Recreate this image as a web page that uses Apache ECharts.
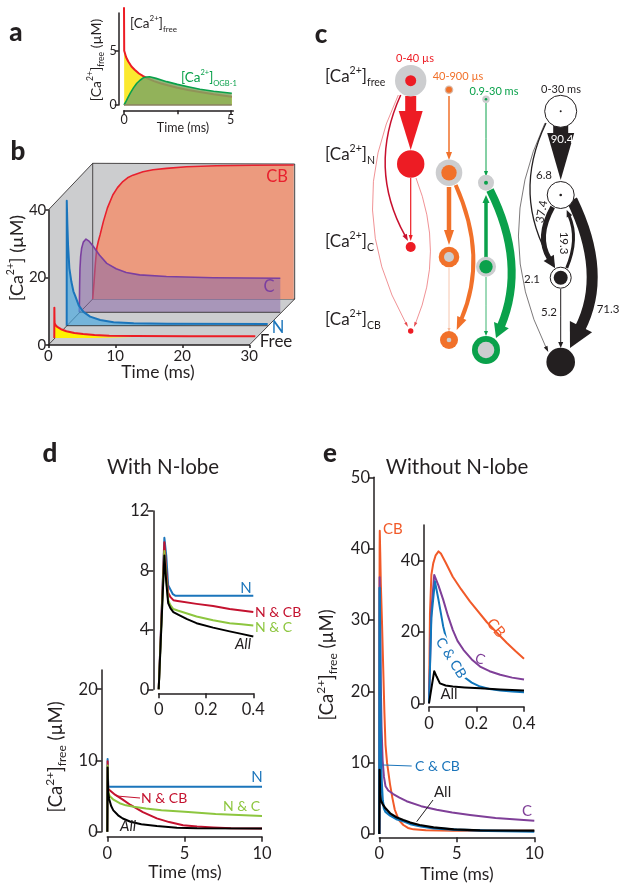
<!DOCTYPE html>
<html><head><meta charset="utf-8">
<style>html,body{margin:0;padding:0;background:#fff}#c{width:627px;height:890px}</style>
<script src="https://cdn.jsdelivr.net/npm/echarts@6/dist/echarts.min.js"></script>
</head><body><div id="c"></div>
<script>
// ---------- Data ----------
// Panel a: t (ms), concentration (uM)
const aFree = [[0,9],[0.01,5.0],[0.1,4.4],[0.2,4.0],[0.35,3.55],[0.5,3.25],[0.7,2.9],[0.9,2.65],[1.1,2.45],[1.4,2.2],[1.7,2.0],[2,1.84],[2.5,1.58],[3,1.38],[3.56,1.2],[4.2,0.98],[5.05,0.77]];
const aOGB  = [[0,0],[0.1,0.35],[0.2,0.75],[0.3,1.12],[0.45,1.6],[0.6,2],[0.75,2.28],[0.9,2.5],[1.05,2.58],[1.2,2.6],[1.5,2.45],[2,2.15],[2.5,1.9],[3,1.68],[3.56,1.45],[4.2,1.27],[5.05,1.08]];
// Panel b: t (ms), concentration (uM)
const bFree = [[0,0],[0.01,9],[0.03,5.5],[0.05,4.4],[0.2,3.8],[0.5,3.2],[1,2.6],[1.8,2],[3,1.5],[4.3,1.2],[6,0.9],[8.2,0.7],[12,0.58],[20,0.5],[30,0.5]];
const bN    = [[0,0],[0.01,37],[0.1,30],[0.2,24],[0.4,17],[0.7,13],[1,10.2],[1.24,9],[1.8,6],[2.5,4.1],[3.5,2.7],[5,1.7],[7,1.05],[10,0.7],[15,0.55],[30,0.5]];
const bC    = [[0,0],[0.05,8],[0.1,13],[0.2,16.5],[0.35,19],[0.6,20.8],[1,21.7],[1.5,21],[2.1,19.5],[3,17],[4.1,14.5],[5.5,12.9],[7,11.8],[9,11.1],[13,10.6],[20,10.25],[30,10.1]];
const bCB   = [[0,0],[0.2,5],[0.4,10.5],[0.6,15],[0.85,17.2],[1.1,19],[1.6,23],[2.2,27],[3,30.8],[3.7,33],[4.5,34.8],[5.2,35.9],[6,36.7],[7.5,37.7],[9,38.3],[11,38.7],[14,39.2],[18.4,39.5],[24,39.65],[30,39.7]];
// Panel d inset
const dInN   = [[0,0],[0.012,5],[0.024,10.2],[0.032,9],[0.04,7],[0.05,6.7],[0.06,6.4],[0.07,6.3],[0.2,6.3],[0.4,6.3]];
const dInNCB = [[0,0],[0.012,5],[0.024,9.9],[0.032,8],[0.04,6.5],[0.05,6.2],[0.062,6],[0.08,5.95],[0.16,5.75],[0.23,5.6],[0.3,5.4],[0.35,5.3],[0.4,5.2]];
const dInNC  = [[0,0],[0.012,4.6],[0.024,9.3],[0.032,7.5],[0.04,6],[0.05,5.65],[0.062,5.4],[0.08,5.3],[0.12,5.1],[0.16,4.9],[0.23,4.65],[0.3,4.45],[0.35,4.37],[0.4,4.3]];
const dInAll = [[0,0],[0.012,4.5],[0.024,9],[0.032,7.2],[0.04,5.8],[0.05,5.45],[0.062,5.2],[0.08,5.05],[0.12,4.72],[0.16,4.45],[0.23,4.15],[0.3,3.9],[0.35,3.73],[0.4,3.55]];
// Panel d main
const dN   = [[0,0],[0.02,10.2],[0.06,6.3],[5,6.3],[10,6.3]];
const dNCB = [[0,0],[0.02,9.9],[0.06,6],[0.17,5.85],[0.5,5.2],[1,4.5],[1.5,3.75],[2.3,2.75],[3.2,1.87],[4,1.35],[4.9,0.9],[5.8,0.72],[6.85,0.6],[8,0.5],[10,0.45]];
const dNC  = [[0,0],[0.02,9.3],[0.06,5.6],[0.15,5.0],[0.4,4.5],[0.8,4],[1.2,3.7],[1.7,3.5],[2.5,3.25],[3.5,3.02],[5,2.8],[7,2.5],[10,2.2]];
const dAll = [[0,0],[0.02,9],[0.06,5.5],[0.12,4.6],[0.25,3.6],[0.39,3],[0.7,2.3],[1,1.85],[1.5,1.4],[2.2,1.05],[3.2,0.8],[4.5,0.55],[5.8,0.47],[10,0.45]];
// Panel e main
const eCB  = [[0,0],[0.01,30],[0.02,40],[0.03,42.5],[0.06,39.5],[0.1,35],[0.17,30],[0.25,23.5],[0.33,17],[0.4,12.5],[0.5,10],[0.69,7],[0.85,5],[1,3.4],[1.25,2],[1.55,1.26],[1.85,0.85],[2.2,0.65],[3,0.52],[4.8,0.47],[10,0.47]];
const eC   = [[0,0],[0.02,36],[0.06,29],[0.1,20.6],[0.145,15],[0.215,10.3],[0.3,8],[0.4,6.7],[0.58,6.1],[0.9,5.6],[1.3,5.1],[1.76,4.6],[2.7,3.9],[3.7,3.4],[4.7,3],[5.85,2.66],[7.5,2.25],[10,1.87]];
const eCCB = [[0,0],[0.02,34.5],[0.06,21.5],[0.1,11.5],[0.145,7.5],[0.215,4.7],[0.3,3.6],[0.4,3.1],[0.7,2.6],[1.1,2.1],[1.55,1.8],[2,1.4],[2.6,1.1],[3.5,0.8],[5,0.6],[7,0.45],[10,0.35]];
const eAll = [[0,0],[0.02,9],[0.05,5.6],[0.1,4.7],[0.215,4.2],[0.4,3.6],[0.7,2.9],[1.1,2.35],[1.55,1.96],[2,1.6],[2.6,1.26],[3.5,0.92],[4.8,0.65],[6.5,0.52],[10,0.47]];
// Panel e inset
const eInCB  = [[0,0],[0.004,25],[0.01,36],[0.018,39.3],[0.028,41.5],[0.04,42.6],[0.05,42],[0.07,39.5],[0.1,35.5],[0.135,32],[0.173,28.5],[0.243,22.8],[0.29,19.5],[0.327,17],[0.365,14.6],[0.4,12.5]];
const eInC   = [[0,0],[0.01,26],[0.022,36],[0.04,33],[0.06,29],[0.08,24.5],[0.1,20.6],[0.12,17.5],[0.145,15],[0.18,12.3],[0.215,10.3],[0.255,9],[0.3,8],[0.35,7.2],[0.4,6.7]];
const eInCCB = [[0,0],[0.01,24],[0.025,34.2],[0.04,29],[0.06,21.5],[0.08,16],[0.1,11.5],[0.12,9.2],[0.145,7.5],[0.18,5.8],[0.215,4.7],[0.255,4],[0.3,3.6],[0.35,3.3],[0.4,3.1]];
const eInAll = [[0,0],[0.012,5],[0.022,9],[0.032,7.5],[0.046,5.6],[0.07,5],[0.1,4.7],[0.15,4.45],[0.215,4.2],[0.3,3.9],[0.4,3.6]];
// Panel c flux percentages and labels
const fluxLabels = ['90.4','6.8','37.4','19.3','2.1','5.2','71.3'];
const rowLabels = ['free','N','C','CB'];
const colLabels = ['0-40 µs','40-900 µs','0.9-30 ms','0-30 ms'];

// ---------- Layout ----------
const FONT = 'Lato';
const INK = '#231f20';
const RED='#ed1c24', ORG='#f1712a', GRN='#0aa14b', BLK='#231f20', GREY='#cccdcf';
const grids = [
 {left:0,top:0,width:627,height:890},
 {left:124,top:13,width:109.3,height:92},          // a
 {left:48.3,top:210,width:201,height:135},         // b front axes
 {left:54.3,top:203,width:201,height:135},         // b free
 {left:66.7,top:190.7,width:201,height:135},       // b N
 {left:79.3,top:177.3,width:201,height:135},       // b C
 {left:92.7,top:164,width:201,height:135},         // b CB
 {left:158.7,top:511,width:94.6,height:178.3},     // d inset
 {left:107.3,top:670,width:154.7,height:161.7},    // d main
 {left:379.3,top:477.3,width:155,height:356.7},    // e main
 {left:429,top:525,width:95,height:178.3}          // e inset
];
const line = {color:INK,width:1.5};
function ax(gridIndex,max,o,defMargin){
  const on=o.show!==false;
  return {type:'value',gridIndex,min:0,max,splitLine:{show:false},
    axisLine:{show:on,lineStyle:line,onZero:false},
    axisTick:{show:on,length:o.tick||5,lineStyle:line,customValues:o.ticks},
    axisLabel:{show:on,color:INK,fontSize:o.fs||16.5,fontFamily:FONT,margin:o.margin||defMargin,
      customValues:o.labels,hideOverlap:false,showMinLabel:true,showMaxLabel:true,formatter:v=>String(v)},
    offset:o.offset||0,z:5};
}
function xA(g,max,o={}){return ax(g,max,o,8);}
function yA(g,max,o={}){return ax(g,max,o,4);}
const xAxis=[
 {type:'value',gridIndex:0,min:0,max:627,show:false},
 xA(1,5.12,{offset:5.3,ticks:[0,2.5,5],labels:[0,5],fs:12.5,margin:3,tick:4}),
 xA(2,30,{ticks:[0,10,20,30],labels:[0,10,20,30],fs:15,margin:4,tick:3}),
 xA(3,30,{show:false}),xA(4,30,{show:false}),xA(5,30,{show:false}),xA(6,30,{show:false}),
 xA(7,0.4,{offset:4,ticks:[0,0.2,0.4],labels:[0,0.2,0.4]}),
 xA(8,10,{offset:5,ticks:[0,5,10],labels:[0,5,10]}),
 xA(9,10,{offset:3.3,ticks:[0,5,10],labels:[0,5,10]}),
 xA(10,0.4,{offset:3.4,ticks:[0,0.2,0.4],labels:[0,0.2,0.4]})
];
const yAxis=[
 {type:'value',gridIndex:0,min:0,max:890,inverse:true,show:false},
 yA(1,8.47,{offset:5.3,ticks:[0,5],labels:[0,5],fs:12.5,margin:2,tick:4}),
 yA(2,40,{ticks:[0,20,40],labels:[0,20,40],fs:15,margin:2,tick:3}),
 yA(3,40,{show:false}),yA(4,40,{show:false}),yA(5,40,{show:false}),yA(6,40,{show:false}),
 yA(7,12,{offset:5.3,ticks:[0,4,8,12],labels:[0,4,8,12],tick:6}),
 yA(8,22.7,{offset:5.6,ticks:[0,10,20],labels:[0,10,20],tick:6}),
 yA(9,50,{offset:5.3,ticks:[0,10,20,30,40,50],labels:[0,10,20,30,40,50],tick:6}),
 yA(10,50,{offset:5,ticks:[0,20,40],labels:[0,20,40],tick:6})
];
function L(name,g,data,color,width,extra={}){
  return Object.assign({type:'line',name,xAxisIndex:g,yAxisIndex:g,data,showSymbol:false,
    smooth:false,clip:false,silent:true,animation:false,
    lineStyle:{color,width:width||2,join:'round'},itemStyle:{color}},extra);
}

// ---------- Panel b walls (page pixels) ----------
const bWalls=[
 {pts:[[48.3,210],[92.7,163.3],[92.7,299],[48.3,345]],fill:GREY},
 {pts:[[92.7,163.3],[294.7,164],[294.7,299],[92.7,299]],fill:GREY},
 {pts:[[48.3,345],[249.3,345],[294.7,299],[92.7,299]],fill:GREY}
];
const bEdges=[[[48.3,210],[92.7,163.3]],[[92.7,163.3],[294.7,164]],[[92.7,163.3],[92.7,299]],
 [[48.3,345],[92.7,299]],[[249.3,345],[294.7,299]],[[294.7,164],[294.7,299]],[[92.7,299],[294.7,299]]];
const bWallSeries={type:'custom',xAxisIndex:0,yAxisIndex:0,z:1,silent:true,animation:false,clip:false,
  data:bWalls.map((w,i)=>[i]),
  renderItem(p,api){
    const w=bWalls[p.dataIndex];
    const ch=[{type:'polygon',shape:{points:w.pts.map(q=>api.coord(q))},style:{fill:w.fill}}];
    if(p.dataIndex===bWalls.length-1) bEdges.forEach(e=>{
      const a=api.coord(e[0]),b=api.coord(e[1]);
      ch.push({type:'line',shape:{x1:a[0],y1:a[1],x2:b[0],y2:b[1]},style:{stroke:INK,lineWidth:0.8}});
    });
    return {type:'group',children:ch};
  }};

// ---------- Panel c diagram (page pixels) ----------
const nodes=[
 [410.7,80.7,15.7,GREY,5.5,RED],[410.7,164,13.7,RED,0,RED],[410.7,247,5,RED,0,RED],[410.7,331,2.7,RED,0,RED],
 [449,89.7,4.3,'#d9b8a6',3,ORG],[449,172.7,13.3,GREY,7.7,ORG],[449,257,10.3,ORG,5,GREY],[449,340,9,ORG,2.3,GREY],
 [486,99.3,3.7,GREY,1.3,GRN],[486,182.7,8,GREY,2,GRN],[486,266.7,10,GREY,6.7,GRN],[486,350,14,GRN,8.3,GREY],
 [560.7,111.3,16,'#fff',1,BLK,BLK],[560.7,195,13.5,'#fff',1.3,BLK,BLK],[560.7,277.7,10.5,'#fff',7,BLK,BLK],[560.7,362,14.3,BLK,0,BLK]
];
const edges=[
 [410.7,96,410.7,120,410.7,150,11,39,24,RED],
 [400.7,95,367.6,168,408,241,1.5,7,5,'#c8102e'],
 [398.3,95,343,211,408,327,0.6,5,3,'#e5484d'],
 [410.7,178,410.7,210,410.7,241,1.2,6,4,RED],
 [416,178,445,252,414,327,0.6,5,3,'#e5484d'],
 [449,96,449,130,449,160,1.5,8,6,ORG],
 [449,187,449,215,449,245,4.5,15,10,ORG],
 [455.7,185,488,257,456.7,330,4,13,10,ORG],
 [449,268,449,300,449,332,0.8,4,3,'#f5b89a'],
 [486,103,486,140,486,177,1,6,4,GRN],
 [486,258,486,226,486,195,3.5,8,7,GRN],
 [490,190,527,264,496,338,8,14,16,GRN],
 [486,277,486,306,486,336,0.8,5,4,GRN],
 [560.7,126,560.7,150,560.7,180,15,47,27,BLK],
 [546,123,511.5,195,555,268,1.3,8,6,BLK],
 [545,123,491.4,237,548.3,352,0.6,6,4,BLK],
 [552.7,207,536,237,555,268,5,12,12,BLK],
 [566.7,268,579,239,566.7,210,3,7,6,BLK],
 [572,200,608,274,570,348,11,24,25,BLK],
 [560.7,289,560.7,318,560.7,348,1,6,5,BLK]
];
const edgeSeries={type:'custom',xAxisIndex:0,yAxisIndex:0,z:3,silent:true,animation:false,clip:false,
  data:edges.map((e,i)=>[i]),
  renderItem(p,api){
    const [x0,y0,cx,cy,x1,y1,w,hl,hw,col]=edges[p.dataIndex];
    const a=api.coord([x0,y0]),c=api.coord([cx,cy]),b=api.coord([x1,y1]);
    let dx=b[0]-c[0],dy=b[1]-c[1];const d=Math.hypot(dx,dy);dx/=d;dy/=d;
    const bx=b[0]-dx*hl,by=b[1]-dy*hl;
    const nx=-dy,ny=dx;
    const sx=b[0]-dx*hl*0.9,sy=b[1]-dy*hl*0.9;
    return {type:'group',children:[
      {type:'bezierCurve',shape:{x1:a[0],y1:a[1],x2:sx,y2:sy,cpx1:c[0],cpy1:c[1]},style:{stroke:col,lineWidth:w,fill:null}},
      {type:'polygon',shape:{points:[[b[0],b[1]],[bx+nx*hw/2,by+ny*hw/2],[bx-nx*hw/2,by-ny*hw/2]]},style:{fill:col}}
    ]};
  }};
const nodeSeries={type:'custom',xAxisIndex:0,yAxisIndex:0,z:4,silent:true,animation:false,clip:false,
  data:nodes.map((n,i)=>[i]),
  renderItem(p,api){
    const n=nodes[p.dataIndex];const c=api.coord([n[0],n[1]]);
    const ch=[{type:'circle',shape:{cx:c[0],cy:c[1],r:n[2]},style:{fill:n[3],stroke:n[6]||null,lineWidth:n[6]?1:0}}];
    if(n[4]>0) ch.push({type:'circle',shape:{cx:c[0],cy:c[1],r:n[4]},style:{fill:n[5]}});
    return {type:'group',children:ch};
  }};

// ---------- Text ----------
function T(x,y,text,o={}){
  return {type:'text',x,y,rotation:(o.rot||0)*Math.PI/180,z:100,silent:true,
    style:{text,fontFamily:FONT,fontSize:o.fs||14,fontWeight:o.fw||'normal',fontStyle:o.it?'italic':'normal',
      fill:o.c||INK,align:o.al||'center',verticalAlign:'middle',rich:o.rich,
      backgroundColor:o.bg,padding:o.bg?[0,2]:undefined}};
}
function caRich(b,s,c){const h=b+6;return {t:{fontSize:b,fill:c||INK,fontFamily:FONT,lineHeight:h},
  sup:{fontSize:s,fill:c||INK,fontFamily:FONT,verticalAlign:'top',lineHeight:h},
  sub:{fontSize:s,fill:c||INK,fontFamily:FONT,verticalAlign:'bottom',lineHeight:h}};}
function ca(sub,tail){return '{t|[Ca}{sup|2+}{t|]}'+(sub?'{sub|'+sub+'}':'')+(tail?'{t|'+tail+'}':'');}
function conn(x1,y1,x2,y2,c){return {type:'line',z:99,silent:true,shape:{x1,y1,x2,y2},style:{stroke:c,lineWidth:1}};}

const BLUE='#1b75bb',DRED='#c4122f',LGRN='#8dc63f',OR2='#f15a29',PUR='#7f3f98',PUR2='#7b3fa0';
const AX=17.5;
const elements=[
 T(16,33,'a',{fs:26,fw:900}),T(18,152,'b',{fs:26,fw:900}),T(321,35,'c',{fs:26,fw:900}),
 T(50,454,'d',{fs:26,fw:900}),T(330,454,'e',{fs:26,fw:900}),
 // a
 T(96,60,ca('free',' (µM)'),{rot:90,rich:caRich(14,8.5)}),
 T(183,128,'Time (ms)',{fs:12.5}),
 T(130,24,ca('free'),{al:'left',rich:caRich(13.5,8)}),
 T(181,78,ca('OGB-1'),{al:'left',rich:caRich(13.5,7.5,'#0aa14b')}),
 // b
 T(17,258,ca('',' (µM)'),{rot:90,rich:caRich(18,10.5)}),
 T(158,372,'Time (ms)',{fs:17.5}),
 T(277,177,'CB',{fs:16.5,c:'#e8202e'}),T(269,287,'C',{fs:16.5,c:PUR2}),
 T(278,328,'N',{fs:16.5,c:BLUE}),T(276,342,'Free',{fs:17}),
 // c
 T(325,77,ca(rowLabels[0]),{al:'left',rich:caRich(17,10.5)}),
 T(325,155,ca(rowLabels[1]),{al:'left',rich:caRich(17,10.5)}),
 T(325,242,ca(rowLabels[2]),{al:'left',rich:caRich(17,10.5)}),
 T(325,320,ca(rowLabels[3]),{al:'left',rich:caRich(17,10.5)}),
 T(415,58,colLabels[0],{fs:11,c:RED}),T(458,76,colLabels[1],{fs:11,c:ORG}),
 T(494,91,colLabels[2],{fs:11,c:GRN}),T(561,89,colLabels[3],{fs:11}),
 T(562,139,fluxLabels[0],{fs:11.5,c:'#fff'}),T(544,175,fluxLabels[1],{fs:11.5}),
 T(541.7,211.7,fluxLabels[2],{fs:11.5,rot:80}),T(564,243,fluxLabels[3],{fs:11.5,rot:-90}),
 T(532,279,fluxLabels[4],{fs:11.5}),T(549,312,fluxLabels[5],{fs:11.5}),T(608,309,fluxLabels[6],{fs:11.5}),
 // d
 T(163,467,'With N-lobe',{fs:20.5}),
 T(56,757,ca('free',' (µM)'),{rot:90,rich:caRich(18.5,12)}),
 T(185,872,'Time (ms)',{fs:AX}),
 T(246,588,'N',{fs:15,c:BLUE}),T(255,612,'N & CB',{fs:14,c:DRED,al:'left'}),
 T(255,627,'N & C',{fs:14,c:LGRN,al:'left'}),T(243,644,'All',{fs:15,it:true}),
 T(257,777,'N',{fs:15,c:BLUE}),T(141,798,'N & CB',{fs:14,c:DRED,al:'left'}),
 T(223,806,'N & C',{fs:14,c:LGRN,al:'left'}),T(120,826,'All',{fs:15,it:true,al:'left'}),
 conn(116.7,796,140,798,DRED),
 // e
 T(457,467,'Without N-lobe',{fs:20.5}),
 T(327,665,ca('free',' (µM)'),{rot:90,rich:caRich(18.5,12)}),
 T(457,874,'Time (ms)',{fs:AX}),
 T(383,529,'CB',{fs:15,c:OR2,al:'left'}),T(415,766,'C & CB',{fs:14,c:BLUE,al:'left'}),
 T(434,792,'All',{fs:15,al:'left'}),T(522,811,'C',{fs:15,c:PUR,al:'left'}),
 conn(383.3,765,411.7,766,BLUE),conn(433,800,416.7,821.7,INK),
 T(496,628,'CB',{fs:15,c:OR2,rot:-50}),T(451,658,'C & CB',{fs:14,c:BLUE,rot:-58,bg:'#fff'}),
 T(480,659,'C',{fs:14,c:PUR,rot:-20}),T(449,694,'All',{fs:15})
];

const series=[
 bWallSeries,
 // a
 L('[Ca2+]free',1,aFree,'#ed1c24',2,{z:2,areaStyle:{color:'#fbe92f',opacity:1}}),
 L('[Ca2+]OGB-1',1,aOGB,'#0aa14b',1.6,{z:3,areaStyle:{color:'#7fa862',opacity:0.85}}),
 L('a baseline',1,[[0,0],[5.05,0]],'#8a8060',1.5,{z:4}),
 // b
 L('CB',6,bCB,'#e8202e',1.6,{z:2,areaStyle:{color:'#ec9a7e',opacity:1}}),
 L('C',5,bC,PUR2,1.6,{z:3,areaStyle:{color:'#8a6aa8',opacity:0.55}}),
 L('C base',5,[[0,0],[30,0]],INK,0.8,{z:3}),
 L('N',4,bN,BLUE,2,{z:4,areaStyle:{color:'#45a6e0',opacity:0.65}}),
 L('N base',4,[[0,0],[30,0]],INK,0.8,{z:4}),
 L('Free',3,bFree,'#ed1c24',2,{z:5,areaStyle:{color:{type:'linear',x:0,y:0,x2:1,y2:0,colorStops:[
    {offset:0,color:'#fff200'},{offset:0.2,color:'#fff200'},{offset:0.4,color:'rgba(255,242,0,0)'},{offset:1,color:'rgba(255,242,0,0)'}]},opacity:1}}),
 // c
 edgeSeries,nodeSeries,
 // d inset
 L('N',7,dInN,BLUE,2),L('N & CB',7,dInNCB,DRED,2),L('N & C',7,dInNC,LGRN,2),L('All',7,dInAll,'#000',2),
 // d main
 L('N',8,dN,BLUE,2),L('N & CB',8,dNCB,DRED,2),L('N & C',8,dNC,LGRN,2),L('All',8,dAll,'#000',2),
 // e main
 L('CB',9,eCB,OR2,2),L('C',9,eC,PUR,2),L('C & CB',9,eCCB,'#0f76bc',2.4),L('All',9,eAll,'#000',2.2),
 // e inset
 L('CB',10,eInCB,OR2,2),L('C',10,eInC,PUR,2),L('C & CB',10,eInCCB,'#0f76bc',2),L('All',10,eInAll,'#000',2)
];

const chart=echarts.init(document.getElementById('c'),null,{renderer:'canvas',width:627,height:890});
chart.setOption({animation:false,backgroundColor:'#fff',textStyle:{fontFamily:FONT},
  grid:grids.map(g=>Object.assign({containLabel:false},g)),xAxis,yAxis,series,
  graphic:{z:100,elements}});
</script></body></html>
